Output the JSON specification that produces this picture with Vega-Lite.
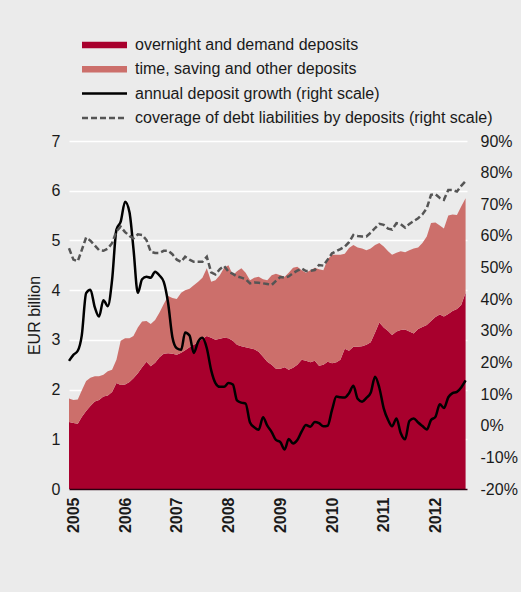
{
  "$schema": "https://vega.github.io/schema/vega-lite/v6.json",
  "width": 398,
  "height": 348,
  "autosize": {"type": "none"},
  "padding": {"left": 69, "top": 141, "right": 54, "bottom": 103},
  "background": "#ebebeb",
  "config": {
    "view": {"stroke": null},
    "font": "Liberation Sans",
    "axis": {
      "labelFont": "Liberation Sans",
      "labelFontSize": 16,
      "labelColor": "#1a1a1a",
      "titleFont": "Liberation Sans",
      "titleFontSize": 16,
      "titleFontWeight": "normal",
      "titleColor": "#1a1a1a",
      "ticks": false,
      "domain": false,
      "labelOverlap": false
    }
  },
  "data": {
    "values": [
      {"d": "2004-12-01", "on": 1.35, "ts": 0.47, "g": 20.5, "c": 56.1},
      {"d": "2005-01-01", "on": 1.33, "ts": 0.46, "g": 22.4, "c": 52.5},
      {"d": "2005-02-01", "on": 1.31, "ts": 0.49, "g": 23.7, "c": 52.0},
      {"d": "2005-03-01", "on": 1.45, "ts": 0.53, "g": 28.5, "c": 55.5},
      {"d": "2005-04-01", "on": 1.57, "ts": 0.60, "g": 41.9, "c": 59.5},
      {"d": "2005-05-01", "on": 1.67, "ts": 0.57, "g": 43.0, "c": 58.5},
      {"d": "2005-06-01", "on": 1.76, "ts": 0.51, "g": 37.5, "c": 57.0},
      {"d": "2005-07-01", "on": 1.79, "ts": 0.48, "g": 34.5, "c": 55.5},
      {"d": "2005-08-01", "on": 1.86, "ts": 0.44, "g": 39.7, "c": 55.3},
      {"d": "2005-09-01", "on": 1.88, "ts": 0.49, "g": 37.8, "c": 56.0},
      {"d": "2005-10-01", "on": 1.95, "ts": 0.45, "g": 46.0, "c": 57.7},
      {"d": "2005-11-01", "on": 2.13, "ts": 0.47, "g": 62.0, "c": 61.5},
      {"d": "2005-12-01", "on": 2.09, "ts": 0.89, "g": 64.5, "c": 62.9},
      {"d": "2006-01-01", "on": 2.10, "ts": 0.93, "g": 70.8, "c": 61.2},
      {"d": "2006-02-01", "on": 2.15, "ts": 0.88, "g": 67.5, "c": 60.0},
      {"d": "2006-03-01", "on": 2.23, "ts": 0.85, "g": 56.0, "c": 59.2},
      {"d": "2006-04-01", "on": 2.33, "ts": 0.92, "g": 42.0, "c": 60.5},
      {"d": "2006-05-01", "on": 2.45, "ts": 0.92, "g": 46.3, "c": 60.3},
      {"d": "2006-06-01", "on": 2.56, "ts": 0.82, "g": 47.1, "c": 58.7},
      {"d": "2006-07-01", "on": 2.47, "ts": 0.85, "g": 46.8, "c": 55.0},
      {"d": "2006-08-01", "on": 2.54, "ts": 0.86, "g": 48.7, "c": 54.6},
      {"d": "2006-09-01", "on": 2.65, "ts": 0.90, "g": 47.5, "c": 54.6},
      {"d": "2006-10-01", "on": 2.72, "ts": 1.00, "g": 45.5, "c": 55.3},
      {"d": "2006-11-01", "on": 2.73, "ts": 1.15, "g": 38.7, "c": 55.3},
      {"d": "2006-12-01", "on": 2.72, "ts": 1.12, "g": 28.0, "c": 54.2},
      {"d": "2007-01-01", "on": 2.70, "ts": 1.12, "g": 24.5, "c": 52.5},
      {"d": "2007-02-01", "on": 2.74, "ts": 1.21, "g": 24.0, "c": 51.8},
      {"d": "2007-03-01", "on": 2.79, "ts": 1.21, "g": 29.5, "c": 53.4},
      {"d": "2007-04-01", "on": 2.85, "ts": 1.18, "g": 28.5, "c": 52.5},
      {"d": "2007-05-01", "on": 2.90, "ts": 1.20, "g": 23.0, "c": 51.8},
      {"d": "2007-06-01", "on": 2.95, "ts": 1.22, "g": 26.6, "c": 51.8},
      {"d": "2007-07-01", "on": 3.02, "ts": 1.23, "g": 27.8, "c": 51.8},
      {"d": "2007-08-01", "on": 3.08, "ts": 1.36, "g": 24.5, "c": 53.4},
      {"d": "2007-09-01", "on": 3.04, "ts": 1.13, "g": 17.5, "c": 48.5},
      {"d": "2007-10-01", "on": 3.00, "ts": 1.20, "g": 13.5, "c": 47.8},
      {"d": "2007-11-01", "on": 3.02, "ts": 1.28, "g": 12.3, "c": 49.5},
      {"d": "2007-12-01", "on": 3.04, "ts": 1.41, "g": 12.3, "c": 50.5},
      {"d": "2008-01-01", "on": 3.03, "ts": 1.47, "g": 13.5, "c": 48.7},
      {"d": "2008-02-01", "on": 2.98, "ts": 1.32, "g": 13.0, "c": 48.0},
      {"d": "2008-03-01", "on": 2.90, "ts": 1.48, "g": 8.0, "c": 47.2},
      {"d": "2008-04-01", "on": 2.87, "ts": 1.57, "g": 7.3, "c": 46.8},
      {"d": "2008-05-01", "on": 2.85, "ts": 1.50, "g": 7.0, "c": 46.3},
      {"d": "2008-06-01", "on": 2.83, "ts": 1.37, "g": 1.0, "c": 45.0},
      {"d": "2008-07-01", "on": 2.81, "ts": 1.44, "g": -0.5, "c": 45.3},
      {"d": "2008-08-01", "on": 2.76, "ts": 1.51, "g": -1.3, "c": 45.2},
      {"d": "2008-09-01", "on": 2.66, "ts": 1.56, "g": 2.7, "c": 45.0},
      {"d": "2008-10-01", "on": 2.56, "ts": 1.64, "g": 0.0, "c": 44.8},
      {"d": "2008-11-01", "on": 2.50, "ts": 1.80, "g": -2.0, "c": 44.5},
      {"d": "2008-12-01", "on": 2.42, "ts": 1.91, "g": -4.5, "c": 45.8},
      {"d": "2009-01-01", "on": 2.42, "ts": 1.88, "g": -5.2, "c": 47.0},
      {"d": "2009-02-01", "on": 2.45, "ts": 1.82, "g": -7.5, "c": 46.8},
      {"d": "2009-03-01", "on": 2.40, "ts": 1.95, "g": -4.2, "c": 47.2},
      {"d": "2009-04-01", "on": 2.44, "ts": 2.01, "g": -5.6, "c": 48.2},
      {"d": "2009-05-01", "on": 2.50, "ts": 1.97, "g": -4.5, "c": 49.0},
      {"d": "2009-06-01", "on": 2.60, "ts": 1.80, "g": -1.8, "c": 49.7},
      {"d": "2009-07-01", "on": 2.58, "ts": 1.77, "g": 0.2, "c": 48.9},
      {"d": "2009-08-01", "on": 2.55, "ts": 1.85, "g": -0.3, "c": 49.0},
      {"d": "2009-09-01", "on": 2.58, "ts": 1.87, "g": 1.2, "c": 49.2},
      {"d": "2009-10-01", "on": 2.48, "ts": 1.94, "g": 0.8, "c": 50.8},
      {"d": "2009-11-01", "on": 2.50, "ts": 1.90, "g": -0.2, "c": 50.6},
      {"d": "2009-12-01", "on": 2.56, "ts": 2.06, "g": 0.0, "c": 52.5},
      {"d": "2010-01-01", "on": 2.53, "ts": 2.18, "g": 5.0, "c": 54.5},
      {"d": "2010-02-01", "on": 2.55, "ts": 2.16, "g": 9.2, "c": 55.2},
      {"d": "2010-03-01", "on": 2.60, "ts": 2.11, "g": 9.0, "c": 55.8},
      {"d": "2010-04-01", "on": 2.82, "ts": 1.91, "g": 8.9, "c": 56.6},
      {"d": "2010-05-01", "on": 2.78, "ts": 2.07, "g": 10.3, "c": 58.0},
      {"d": "2010-06-01", "on": 2.86, "ts": 2.05, "g": 12.6, "c": 60.3},
      {"d": "2010-07-01", "on": 2.86, "ts": 2.00, "g": 8.5, "c": 60.0},
      {"d": "2010-08-01", "on": 2.87, "ts": 1.97, "g": 7.6, "c": 59.8},
      {"d": "2010-09-01", "on": 2.90, "ts": 1.90, "g": 8.8, "c": 59.8},
      {"d": "2010-10-01", "on": 2.95, "ts": 1.89, "g": 10.4, "c": 61.0},
      {"d": "2010-11-01", "on": 3.15, "ts": 1.76, "g": 15.5, "c": 62.5},
      {"d": "2010-12-01", "on": 3.35, "ts": 1.60, "g": 12.0, "c": 63.8},
      {"d": "2011-01-01", "on": 3.25, "ts": 1.63, "g": 5.5, "c": 63.5},
      {"d": "2011-02-01", "on": 3.18, "ts": 1.60, "g": 1.8, "c": 62.3},
      {"d": "2011-03-01", "on": 3.10, "ts": 1.61, "g": -0.2, "c": 62.0},
      {"d": "2011-04-01", "on": 3.17, "ts": 1.58, "g": 2.3, "c": 64.0},
      {"d": "2011-05-01", "on": 3.20, "ts": 1.58, "g": -2.3, "c": 63.7},
      {"d": "2011-06-01", "on": 3.21, "ts": 1.55, "g": -4.3, "c": 62.6},
      {"d": "2011-07-01", "on": 3.17, "ts": 1.63, "g": 1.5, "c": 63.8},
      {"d": "2011-08-01", "on": 3.13, "ts": 1.71, "g": 2.3, "c": 64.7},
      {"d": "2011-09-01", "on": 3.22, "ts": 1.64, "g": 1.0, "c": 65.6},
      {"d": "2011-10-01", "on": 3.26, "ts": 1.69, "g": -0.1, "c": 66.8},
      {"d": "2011-11-01", "on": 3.30, "ts": 1.78, "g": -1.2, "c": 68.7},
      {"d": "2011-12-01", "on": 3.38, "ts": 1.97, "g": 1.8, "c": 73.0},
      {"d": "2012-01-01", "on": 3.46, "ts": 1.90, "g": 2.8, "c": 73.2},
      {"d": "2012-02-01", "on": 3.51, "ts": 1.79, "g": 6.8, "c": 72.0},
      {"d": "2012-03-01", "on": 3.47, "ts": 1.77, "g": 5.6, "c": 71.4},
      {"d": "2012-04-01", "on": 3.52, "ts": 1.98, "g": 9.0, "c": 74.5},
      {"d": "2012-05-01", "on": 3.58, "ts": 1.94, "g": 10.3, "c": 74.5},
      {"d": "2012-06-01", "on": 3.62, "ts": 1.89, "g": 10.7, "c": 74.0},
      {"d": "2012-07-01", "on": 3.70, "ts": 1.98, "g": 12.1, "c": 75.8},
      {"d": "2012-08-01", "on": 3.95, "ts": 1.90, "g": 14.3, "c": 77.3}
    ]
  },
  "encoding": {
    "x": {
      "field": "d",
      "type": "temporal",
      "scale": {
        "type": "utc",
        "domain": [
          {"year": 2004, "month": 12, "date": 1, "utc": true},
          {"year": 2012, "month": 8, "date": 11, "utc": true}
        ]
      },
      "axis": {
        "title": null,
        "format": "%Y",
        "values": [
          {"year": 2005, "month": 1, "date": 1, "utc": true},
          {"year": 2006, "month": 1, "date": 1, "utc": true},
          {"year": 2007, "month": 1, "date": 1, "utc": true},
          {"year": 2008, "month": 1, "date": 1, "utc": true},
          {"year": 2009, "month": 1, "date": 1, "utc": true},
          {"year": 2010, "month": 1, "date": 1, "utc": true},
          {"year": 2011, "month": 1, "date": 1, "utc": true},
          {"year": 2012, "month": 1, "date": 1, "utc": true}
        ],
        "labelAngle": 270,
        "labelAlign": "right",
        "labelBaseline": "middle",
        "labelFontWeight": "bold",
        "labelPadding": 8,
        "grid": false,
        "domain": true,
        "domainColor": "#2a0010",
        "domainWidth": 1.5,
        "zindex": 1
      }
    }
  },
  "layer": [
    {
      "transform": [{"fold": ["on", "ts"], "as": ["k", "v"]}],
      "mark": {"type": "area", "interpolate": "linear"},
      "encoding": {
        "y": {
          "field": "v",
          "type": "quantitative",
          "stack": "zero",
          "scale": {"domain": [0, 7], "nice": false},
          "axis": {
            "title": "EUR billion",
            "values": [0, 1, 2, 3, 4, 5, 6, 7],
            "grid": true,
            "gridColor": "#ffffff",
            "gridWidth": 1.5,
            "labelPadding": 9,
            "titlePadding": 9
          }
        },
        "color": {
          "field": "k",
          "type": "nominal",
          "scale": {
            "domain": ["on", "ts", "g", "c"],
            "range": ["#a8002d", "#cc6f6b", "#000000", "#555555"]
          },
          "legend": {
            "orient": "none",
            "legendX": 50,
            "legendY": -104,
            "title": null,
            "labelFont": "Liberation Sans",
            "labelFontSize": 16,
            "labelColor": "#1a1a1a",
            "labelLimit": 500,
            "labelOffset": 0,
            "symbolSize": 100,
            "rowPadding": 8.3,
            "labelExpr": "datum.value == 'on' ? 'overnight and demand deposits' : datum.value == 'ts' ? 'time, saving and other deposits' : datum.value == 'g' ? 'annual deposit growth (right scale)' : 'coverage of debt liabilities by deposits (right scale)'",
            "encode": {
              "symbols": {
                "update": {
                  "shape": {"signal": "datum.value == 'on' || datum.value == 'ts' ? 'M-9,-0.65H0V0.65H-9Z' : 'M-9,0H0'"},
                  "fill": {"signal": "datum.value == 'on' ? '#a8002d' : datum.value == 'ts' ? '#cc6f6b' : 'transparent'"},
                  "stroke": {"signal": "datum.value == 'g' ? '#000000' : datum.value == 'c' ? '#555555' : 'transparent'"},
                  "strokeWidth": {"signal": "datum.value == 'g' || datum.value == 'c' ? 2.5 : 0"},
                  "strokeDash": {"signal": "datum.value == 'c' ? [6, 3] : [1, 0]"},
                  "opacity": {"value": 1}
                }
              }
            }
          }
        },
        "order": {"field": "k", "sort": "ascending"}
      }
    },
    {
      "layer": [
        {
          "transform": [{"fold": ["g"], "as": ["k", "v"]}],
          "mark": {"type": "line", "interpolate": "monotone", "strokeWidth": 2.5},
          "encoding": {
            "y": {
              "field": "v",
              "type": "quantitative",
              "scale": {"domain": [-20, 90], "nice": false},
              "axis": {
                "orient": "right",
                "title": null,
                "values": [-20, -10, 0, 10, 20, 30, 40, 50, 60, 70, 80, 90],
                "labelExpr": "datum.value + '%'",
                "grid": false,
                "labelOverlap": false,
                "labelPadding": 13
              }
            },
            "color": {"field": "k", "type": "nominal"}
          }
        },
        {
          "transform": [{"fold": ["c"], "as": ["k", "v"]}],
          "mark": {"type": "line", "strokeWidth": 2.5, "strokeDash": [6, 3]},
          "encoding": {
            "y": {
              "field": "v",
              "type": "quantitative",
              "axis": {
                "orient": "right",
                "title": null,
                "values": [-20, -10, 0, 10, 20, 30, 40, 50, 60, 70, 80, 90],
                "labelExpr": "datum.value + '%'",
                "grid": false,
                "labelOverlap": false,
                "labelPadding": 13
              }
            },
            "color": {"field": "k", "type": "nominal"}
          }
        }
      ]
    }
  ],
  "resolve": {"scale": {"y": "independent"}}
}
